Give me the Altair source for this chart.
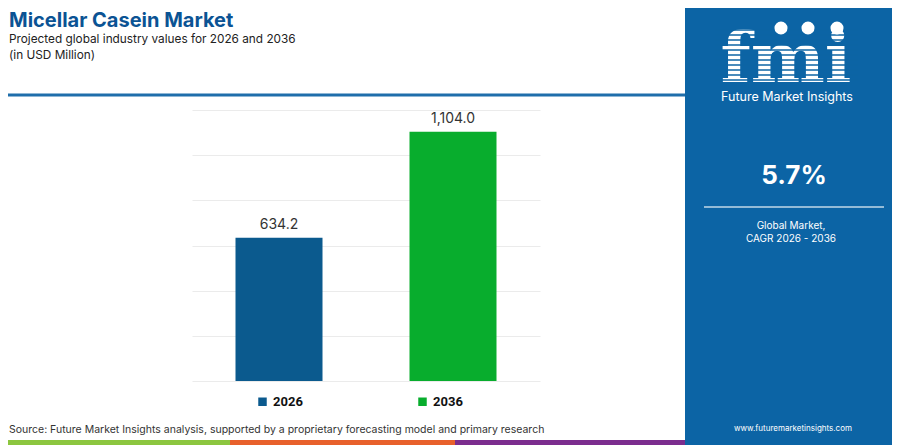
import altair as alt
import pandas as pd

# ---- data ----
years = ["2026", "2036"]
values = [634.2, 1104.0]
bar_colors = ["#0b5a8e", "#08ad2d"]
grid_values = [0, 200, 400, 600, 800, 1000, 1200]

title_text = "Micellar Casein Market"
subtitle_text = "Projected global industry values for 2026 and 2036"
unit_text = "(in USD Million)"
source_text = "Source: Future Market Insights analysis, supported by a proprietary forecasting model and primary research"
cagr_value = "5.7%"
cagr_label = ["Global Market,", "CAGR 2026 - 2036"]
brand = "Future Market Insights"
website = "www.futuremarketinsights.com"

FONT = "Inter"
PANEL = "#0c64a5"
W, H = 348, 271
OX, OY = 192, 110  # page position of the plot origin


def px(x):
    return x - OX


def py(y):
    return y - OY


df = pd.DataFrame({"year": years, "value": values})
one = alt.Data(values=[{"k": 1}])


def rect(x1, x2, y1, y2, color, opacity=1.0):
    return alt.Chart(one).mark_rect(color=color, opacity=opacity).encode(
        x=alt.value(px(x1)), x2=alt.value(px(x2)),
        y=alt.value(py(y1)), y2=alt.value(py(y2)))


def text(t, x, y, size, color="#222222", weight="normal", align="left", font=FONT, opacity=1.0):
    return alt.Chart(one).mark_text(
        text=t, align=align, baseline="alphabetic", font=font, fontSize=size,
        fontWeight=weight, color=color, opacity=opacity
    ).encode(x=alt.value(px(x)), y=alt.value(py(y)))


def rule(x1, x2, y, color, width=1.0, opacity=1.0):
    return alt.Chart(one).mark_rule(color=color, strokeWidth=width, opacity=opacity).encode(
        x=alt.value(px(x1)), x2=alt.value(px(x2)), y=alt.value(py(y)))


bars = alt.Chart(df).mark_bar(size=87).encode(
    x=alt.X("year:N", sort=years, scale=alt.Scale(paddingInner=0.5, paddingOuter=0.25), axis=None),
    y=alt.Y("value:Q", scale=alt.Scale(domain=[0, 1200], nice=False),
            axis=alt.Axis(values=grid_values, grid=True, labels=False, ticks=False,
                          domain=False, title=None, gridColor="#ebebeb", gridWidth=1)),
    color=alt.Color("year:N", scale=alt.Scale(domain=years, range=bar_colors),
                    legend=alt.Legend(orient="none", legendX=px(256), legendY=py(395),
                                      direction="horizontal", title=None,
                                      symbolType="square", symbolSize=72,
                                      symbolStrokeWidth=0, labelFont="Roboto",
                                      labelFontSize=13, labelFontWeight="bold",
                                      labelColor="#111111", columnPadding=113,
                                      labelOffset=4)),
)

labels = alt.Chart(df).mark_text(
    dy=-9, baseline="alphabetic", font=FONT, fontSize=14, color="#333333"
).encode(
    x=alt.X("year:N", sort=years, axis=None),
    y=alt.Y("value:Q"),
    text=alt.Text("value:Q", format=",.1f"),
)

layers = [
    # header
    text(title_text, 9, 27, 20, color="#0b5394", weight="bold"),
    text(subtitle_text, 9, 43, 11.8, color="#222222"),
    text(unit_text, 9, 59, 11.8, color="#222222"),
    rect(0, 685, 93.5, 96.5, "#1f6eab"),
    # side panel
    rect(685, 900, 8, 445, PANEL),
    text("fmi", 786, 82, 70, color="white", weight="bold", align="center", font="DejaVu Serif"),
]
# logo stripes
stripe_y = [30, 35, 40, 45, 50, 55, 60, 65, 70, 75, 80]
for sy in stripe_y:
    layers.append(rule(715, 858, sy, PANEL, width=1.6))
# globes
globe_x = [781, 808, 837]
for gx in globe_x:
    layers.append(alt.Chart(one).mark_point(filled=True, color="white", opacity=1, size=170)
                  .encode(x=alt.value(px(gx)), y=alt.value(py(28))))
layers += [
    text(brand, 787, 101, 12.5, color="white", align="center"),
    text(cagr_value, 794, 184, 26, color="white", weight="bold", align="center"),
    rule(704, 884, 207, "white", width=1.5, opacity=0.75),
    text(cagr_label[0], 791, 229, 10, color="white", align="center"),
    text(cagr_label[1], 791, 242, 10, color="white", align="center"),
    text(website, 793, 431, 8, color="white", align="center"),
    # footer
    text(source_text, 9, 433, 10.5, color="#333333"),
    rect(0, 230, 440, 445, "#8cc63f"),
    rect(230, 455, 440, 445, "#e8612c"),
    rect(455, 685, 440, 445, "#7b2d8e"),
    bars,
    labels,
]

chart = alt.layer(*layers).properties(
    width=W, height=H,
    padding={"left": 184, "top": 102, "right": 352, "bottom": 64},
    autosize=alt.AutoSizeParams(type="none"),
).configure(background="white").configure_view(stroke=None)

chart.save("out.html", embed_options={"renderer": "svg", "actions": False})
